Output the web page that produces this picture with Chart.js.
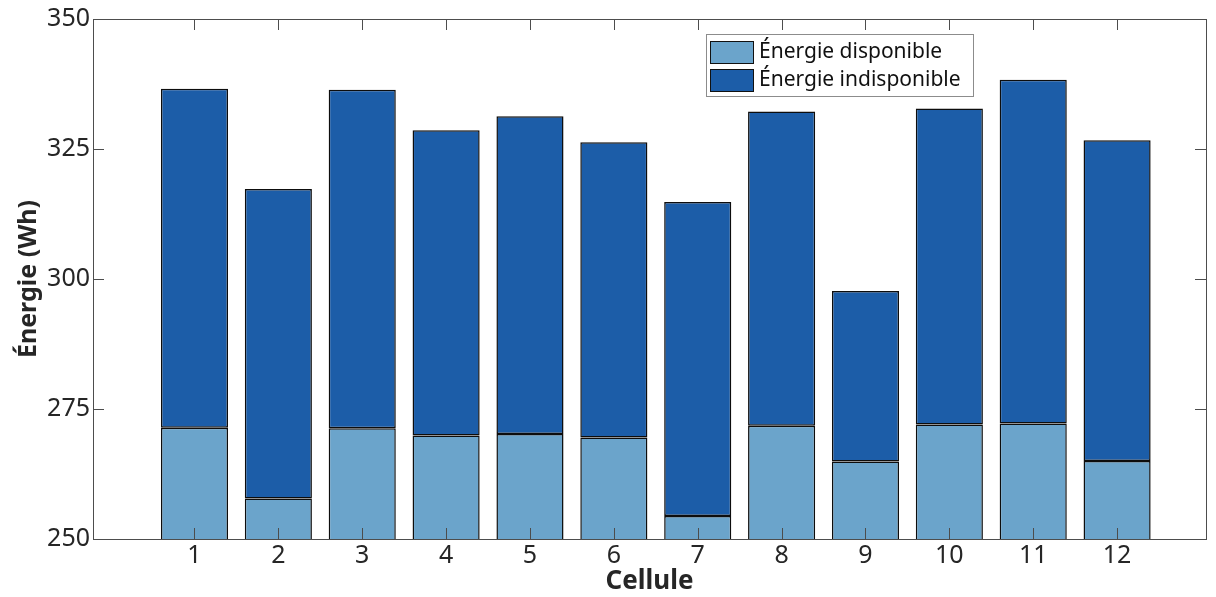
<!DOCTYPE html>
<html>
<head>
<meta charset="utf-8">
<script src="https://cdn.jsdelivr.net/npm/chart.js@4.4.1/dist/chart.umd.min.js"></script>
<style>
  html, body { margin: 0; padding: 0; background: #fff; }
  #wrap { width: 1216px; height: 597px; position: relative; }
</style>
</head>
<body>
<div id="wrap"><canvas id="energyChart" width="1216" height="597"></canvas></div>
<script>
// Cells 1..12, available and unavailable energy (Wh)
const cells = [1, 2, 3, 4, 5, 6, 7, 8, 9, 10, 11, 12];
const available = [271.4, 257.8, 271.3, 269.9, 270.2, 269.5, 254.4, 271.8, 264.9, 272.0, 272.2, 265.0];
const unavailable = [65.2, 59.5, 65.1, 58.7, 61.1, 56.8, 60.4, 60.4, 32.8, 60.8, 66.1, 61.7];
const yTicks = [250, 275, 300, 325, 350];

const FONT = 'Noto Sans';
const TEXT = '#262626';
const AXIS = '#4d4d4d';

// MATLAB-like box with inward ticks on all four sides, drawn over the bars
const boxAxes = {
  id: 'boxAxes',
  afterDatasetsDraw(chart) {
    const { ctx, chartArea: a, scales: { x, y } } = chart;
    const len = 11;
    ctx.save();
    ctx.strokeStyle = AXIS;
    ctx.lineWidth = 1;
    ctx.beginPath();
    x.ticks.forEach(t => {
      const px = Math.round(x.getPixelForValue(t.value)) + 0.5;
      ctx.moveTo(px, a.bottom); ctx.lineTo(px, a.bottom - len);
      ctx.moveTo(px, a.top); ctx.lineTo(px, a.top + len);
    });
    y.ticks.forEach(t => {
      const py = Math.round(y.getPixelForValue(t.value)) + 0.5;
      ctx.moveTo(a.left, py); ctx.lineTo(a.left + len, py);
      ctx.moveTo(a.right, py); ctx.lineTo(a.right - len, py);
    });
    ctx.stroke();
    ctx.strokeRect(Math.round(a.left) + 0.5, Math.round(a.top) + 0.5,
      Math.round(a.right - a.left), Math.round(a.bottom - a.top));
    ctx.restore();
  }
};

// boxed legend inside the plot, top right
const boxLegend = {
  id: 'boxLegend',
  afterDraw(chart) {
    const ctx = chart.ctx;
    const bx = 706, by = 34, bw = 267, bh = 62;
    ctx.save();
    ctx.fillStyle = '#fff';
    ctx.fillRect(bx, by, bw, bh);
    ctx.strokeStyle = '#8c8c8c';
    ctx.lineWidth = 1;
    ctx.strokeRect(bx + 0.5, by + 0.5, bw, bh);
    ctx.font = '21px "' + FONT + '"';
    ctx.textBaseline = 'middle';
    chart.data.datasets.forEach((ds, i) => {
      const rowY = by + 7 + i * 28;
      ctx.fillStyle = ds.backgroundColor;
      ctx.fillRect(bx + 4, rowY, 43, 22);
      ctx.strokeStyle = '#111';
      ctx.strokeRect(bx + 4.5, rowY + 0.5, 43, 22);
      ctx.fillStyle = '#111';
      ctx.fillText(ds.label, bx + 53, rowY + 11);
    });
    ctx.restore();
  }
};

new Chart(document.getElementById('energyChart'), {
  type: 'bar',
  data: {
    datasets: [
      { label: 'Énergie disponible', data: cells.map((c, i) => ({ x: c, y: available[i] })),
        backgroundColor: '#6BA4CB', borderColor: '#0d0d0d', borderWidth: 1.5, borderSkipped: false },
      { label: 'Énergie indisponible', data: cells.map((c, i) => ({ x: c, y: unavailable[i] })),
        backgroundColor: '#1C5DA8', borderColor: '#0d0d0d', borderWidth: 1.5, borderSkipped: false }
    ]
  },
  options: {
    responsive: false,
    animation: false,
    devicePixelRatio: 1,
    layout: { padding: { top: 19, right: 10, left: 0, bottom: 0 } },
    datasets: { bar: { barPercentage: 0.8, categoryPercentage: 1 } },
    plugins: { legend: { display: false }, tooltip: { enabled: false } },
    scales: {
      x: {
        type: 'linear', stacked: true, offset: false, min: -0.21, max: 13.06,
        afterBuildTicks: s => { s.ticks = cells.map(v => ({ value: v })); },
        afterFit: s => { s.height = 58; },
        grid: { display: false, drawTicks: false }, border: { display: false },
        ticks: { color: TEXT, padding: 2, autoSkip: false, maxRotation: 0, font: { family: FONT, size: 25 } },
        title: { display: true, text: 'Cellule', color: TEXT, padding: { top: 0, bottom: 0 },
          font: { family: FONT, size: 26, weight: 'bold' } }
      },
      y: {
        stacked: true, min: 250, max: 350,
        afterBuildTicks: s => { s.ticks = yTicks.map(v => ({ value: v })); },
        afterFit: s => { s.width = 93; },
        grid: { display: false, drawTicks: false }, border: { display: false },
        ticks: { color: TEXT, padding: 3, autoSkip: false, font: { family: FONT, size: 25 } },
        title: { display: true, text: 'Énergie (Wh)', color: TEXT, padding: { top: 14, bottom: 0 },
          font: { family: FONT, size: 25, weight: 'bold' } }
      }
    }
  },
  plugins: [boxAxes, boxLegend]
});
</script>
</body>
</html>
